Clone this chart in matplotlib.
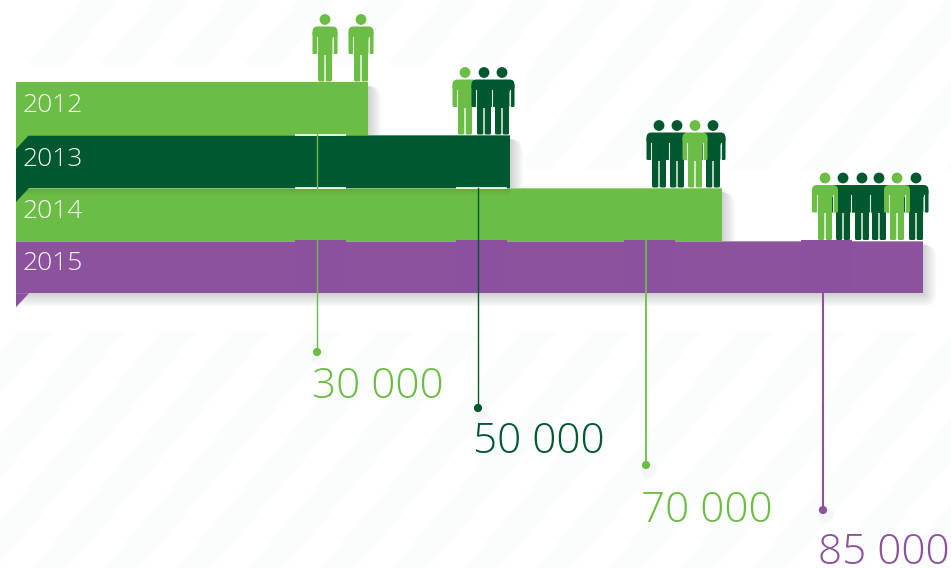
import matplotlib
matplotlib.use("Agg")
import matplotlib.pyplot as plt
from matplotlib.patches import Circle, FancyBboxPatch, Polygon, Rectangle

# ---------------------- Data ----------------------
years = ["2012", "2013", "2014", "2015"]
value_labels = ["30 000", "50 000", "70 000", "85 000"]
bar_lengths = [352, 494, 706, 907]  # the ribbons are not to scale
crowd_colors = [
    ["light", "light"],
    ["light", "dark", "dark"],
    ["dark", "dark", "light", "dark"],
    ["light", "dark", "dark", "dark", "light", "dark"],
]

# ---------------------- Layout (pixels) ----------------------
W, H = 951, 568
LEFT = 16
bar_tops = [82, 135, 188, 240.5]
BAR_H = 52.7
crowd_x = [
    [325, 361],
    [465, 484, 502],
    [659, 677, 695, 713],
    [825, 843, 862, 879, 897, 916],
]
# drawing order inside each crowd, last one ends up in front
crowd_order = [[0, 1], [2, 0, 1], [0, 1, 3, 2], [5, 3, 2, 1, 0, 4]]
line_x = [317, 478, 646, 823]
line_top = [99, 188, 213, 258]
line_end = [352, 408, 465, 510]
label_x = [312, 473, 641, 818]
label_y = [387, 442, 511, 553]
year_y = [105, 159, 211, 263]
line_widths = [1.0, 1.0, 1.3, 1.5]

LIGHT = "#6CBD45"
DARK = "#00582E"
PURPLE = "#8C529E"
bar_colors = [LIGHT, DARK, LIGHT, PURPLE]
FONT = ["Open Sans", "DejaVu Sans"]

fig = plt.figure(figsize=(W / 100, H / 100), dpi=100)
ax = fig.add_axes([0, 0, 1, 1])
ax.set_xlim(0, W)
ax.set_ylim(H, 0)
ax.axis("off")


def stripes(x0, y0, x1, y1):
    # faint diagonal background bands, clipped to one block
    clip = Rectangle((x0, y0), x1 - x0, y1 - y0, transform=ax.transData)
    for start in range(-400, W + 700, 72):
        band = Polygon(
            [(start, H), (start + 36, H), (start + 36 + 568 * 0.85, 0), (start + 568 * 0.85, 0)],
            facecolor="#FBFCFC", edgecolor="none", zorder=0,
        )
        ax.add_patch(band)
        band.set_clip_path(clip)


def shadow(x0, y0, x1, y1, z):
    # soft shadow: stack of see-through rectangles, small ones darkest
    for i in range(16):
        grow = i * 0.9
        ax.add_patch(FancyBboxPatch((x0, y0 + 4), x1 - x0 + grow, y1 - y0 - 4 + grow,
                                    boxstyle="round,pad=0,rounding_size=%.1f" % max(grow, 0.1),
                                    facecolor="#3A4048", edgecolor="none", alpha=0.017, zorder=z))


def person(cx, feet, color, z, wide=False):
    # head, torso with arms, two legs; thin pale outline keeps them apart
    hw = 13.0 if wide else 12.5
    top = feet - 55
    pale = "#DDEBD8"
    ax.add_patch(Circle((cx, feet - 62), 5.4, facecolor=color, edgecolor="none", zorder=z))
    ax.add_patch(FancyBboxPatch((cx - hw, top), hw * 2, 12,
                                boxstyle="round,pad=0,rounding_size=5",
                                facecolor=color, edgecolor="none", zorder=z))
    for side in (-hw, hw - 5):
        ax.add_patch(FancyBboxPatch((cx + side, top + 5), 5, 22.5,
                                    boxstyle="round,pad=0,rounding_size=1.2",
                                    facecolor=color, edgecolor="none", zorder=z))
    ax.add_patch(Rectangle((cx - 7.3, top + 3), 14.6, 25, facecolor=color, edgecolor="none", zorder=z))
    # slits between arms and torso
    for side in (-7.6, 7.6):
        ax.plot([cx + side, cx + side], [top + 10, top + 27.5], color=pale, lw=0.8, zorder=z)
    for side in (-7, 0.7):
        ax.add_patch(FancyBboxPatch((cx + side, top + 25), 6.3, 30,
                                    boxstyle="round,pad=0,rounding_size=1.5",
                                    facecolor=color, edgecolor="none", zorder=z))


# ---------------------- Background ----------------------
stripes(0, 0, W, 65)
stripes(525, 65, W, 170)
stripes(0, 332, W, H)

# ---------------------- Ribbons ----------------------
for i, (length, top, color) in enumerate(zip(bar_lengths, bar_tops, bar_colors)):
    z = 2 + i
    shadow(LEFT, top, LEFT + length, top + BAR_H, z)
    ax.barh(top + BAR_H / 2, length, height=BAR_H, left=LEFT, color=color, edgecolor="none", zorder=z)
    # thin pale seam on the top edge
    if i > 0:
        ax.plot([LEFT, LEFT + length], [top, top], color="white", alpha=0.35, lw=0.7, zorder=z + 0.1)

# shadow of the dark ribbon falling on the one below
for i in range(1, 8):
    ax.add_patch(Rectangle((LEFT, 188), bar_lengths[1], i * 1.0, facecolor="#1F3D20",
                           edgecolor="none", alpha=0.02, zorder=4.2))

# folded corners
for i, color in [(1, LIGHT), (2, DARK), (4, PURPLE)]:
    y = bar_tops[i] if i < 4 else bar_tops[3] + BAR_H
    ax.add_patch(Polygon([(LEFT, y), (LEFT + 13, y), (LEFT, y + 14)], facecolor=color,
                         edgecolor="none", zorder=6.5))

# patches of slightly different tone and white ticks where the leaders cross
for x0, x1 in [(295, 346), (456, 507), (624, 675), (801, 852)]:
    ax.add_patch(Rectangle((x0, 240), x1 - x0, 53.4, facecolor="#8C519E", edgecolor="none", zorder=6))
for x0, x1, y in [(295, 346, 135), (295, 346, 188), (456, 507, 188)]:
    ax.plot([x0, x1], [y, y], color="white", lw=1.2, solid_capstyle="butt", zorder=6.6)

# ---------------------- Leaders and labels ----------------------
for i in range(4):
    color = bar_colors[i]
    ax.plot([line_x[i], line_x[i]], [line_top[i], line_end[i]], color=color,
            lw=line_widths[i], zorder=7)
    ax.add_patch(Circle((line_x[i] + 3, line_end[i] + 5), 8, facecolor="#E6E8EA",
                        edgecolor="none", alpha=0.25, zorder=1))
    ax.add_patch(Circle((line_x[i], line_end[i]), 4.1, facecolor=color, edgecolor="none", zorder=7))
    ax.text(label_x[i], label_y[i], value_labels[i], color=color, family=FONT, fontweight=300,
            fontsize=30.4, va="center", ha="left", zorder=8)
    ax.text(23, year_y[i], years[i], color="white", family=FONT, fontweight=300,
            fontsize=19, va="center", ha="left", alpha=0.95, zorder=8)

# ---------------------- People standing on the ribbons ----------------------
for i in range(4):
    feet = bar_tops[i] - 0.5
    for rank, j in enumerate(crowd_order[i]):
        color = LIGHT if crowd_colors[i][j] == "light" else DARK
        person(crowd_x[i][j], feet, color, 9 + rank * 0.1, wide=(i == 3 and color == LIGHT))

fig.savefig("out.png", dpi=100, facecolor="white")
